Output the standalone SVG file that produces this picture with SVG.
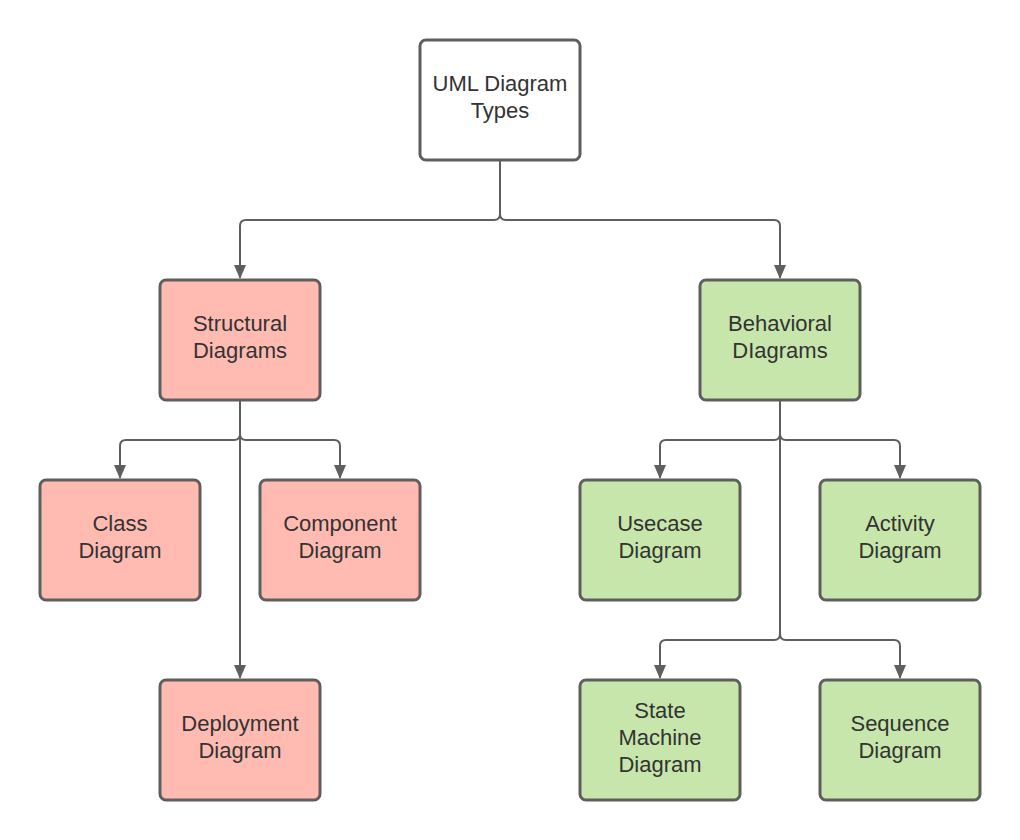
<svg xmlns="http://www.w3.org/2000/svg" width="1020" height="840" viewBox="0 0 1020 840">
<defs>
<style>
.n rect{stroke:#5e5e5e;stroke-width:3;}
.w rect{fill:#ffffff;}
.r rect{fill:#ffbbb1;}
.g rect{fill:#c7e6ab;}
text{font-family:"Liberation Sans",Arial,sans-serif;font-size:22px;fill:#333333;text-anchor:middle;}
.c path{fill:none;stroke:#5e5e5e;stroke-width:2;}
</style>
<marker id="ah" markerWidth="14" markerHeight="14" viewBox="0 0 14 14" refX="13" refY="7" orient="auto" markerUnits="userSpaceOnUse">
<path d="M0,1 L14,7 L0,13 Z" fill="#5e5e5e"/>
</marker>
</defs>
<rect width="1020" height="840" fill="#ffffff"/>
<g id="connectors" class="c">
<path d="M500,161 V214 Q500,220 494,220 H246 Q240,220 240,226 V278" marker-end="url(#ah)"/>
<path d="M500,214 Q500,220 506,220 H774 Q780,220 780,226 V278" marker-end="url(#ah)"/>
<path d="M240,401 V434 Q240,440 234,440 H126 Q120,440 120,446 V478" marker-end="url(#ah)"/>
<path d="M240,434 Q240,440 246,440 H334 Q340,440 340,446 V478" marker-end="url(#ah)"/>
<path d="M240,434 V678" marker-end="url(#ah)"/>
<path d="M780,401 V434 Q780,440 774,440 H666 Q660,440 660,446 V478" marker-end="url(#ah)"/>
<path d="M780,434 Q780,440 786,440 H894 Q900,440 900,446 V478" marker-end="url(#ah)"/>
<path d="M780,434 V634 Q780,640 774,640 H666 Q660,640 660,646 V678" marker-end="url(#ah)"/>
<path d="M780,634 Q780,640 786,640 H894 Q900,640 900,646 V678" marker-end="url(#ah)"/>
</g>
<g id="uml" class="n w"><rect x="420" y="40" width="160" height="120" rx="6"/><text x="500" y="91">UML Diagram</text><text x="500" y="118">Types</text></g>
<g id="structural" class="n r"><rect x="160" y="280" width="160" height="120" rx="6"/><text x="240" y="331">Structural</text><text x="240" y="358">Diagrams</text></g>
<g id="behavioral" class="n g"><rect x="700" y="280" width="160" height="120" rx="6"/><text x="780" y="331">Behavioral</text><text x="780" y="358">DIagrams</text></g>
<g id="class" class="n r"><rect x="40" y="480" width="160" height="120" rx="6"/><text x="120" y="531">Class</text><text x="120" y="558">Diagram</text></g>
<g id="component" class="n r"><rect x="260" y="480" width="160" height="120" rx="6"/><text x="340" y="531">Component</text><text x="340" y="558">Diagram</text></g>
<g id="deployment" class="n r"><rect x="160" y="680" width="160" height="120" rx="6"/><text x="240" y="731">Deployment</text><text x="240" y="758">Diagram</text></g>
<g id="usecase" class="n g"><rect x="580" y="480" width="160" height="120" rx="6"/><text x="660" y="531">Usecase</text><text x="660" y="558">Diagram</text></g>
<g id="activity" class="n g"><rect x="820" y="480" width="160" height="120" rx="6"/><text x="900" y="531">Activity</text><text x="900" y="558">Diagram</text></g>
<g id="statemachine" class="n g"><rect x="580" y="680" width="160" height="120" rx="6"/><text x="660" y="718">State</text><text x="660" y="745">Machine</text><text x="660" y="772">Diagram</text></g>
<g id="sequence" class="n g"><rect x="820" y="680" width="160" height="120" rx="6"/><text x="900" y="731">Sequence</text><text x="900" y="758">Diagram</text></g>
</svg>
